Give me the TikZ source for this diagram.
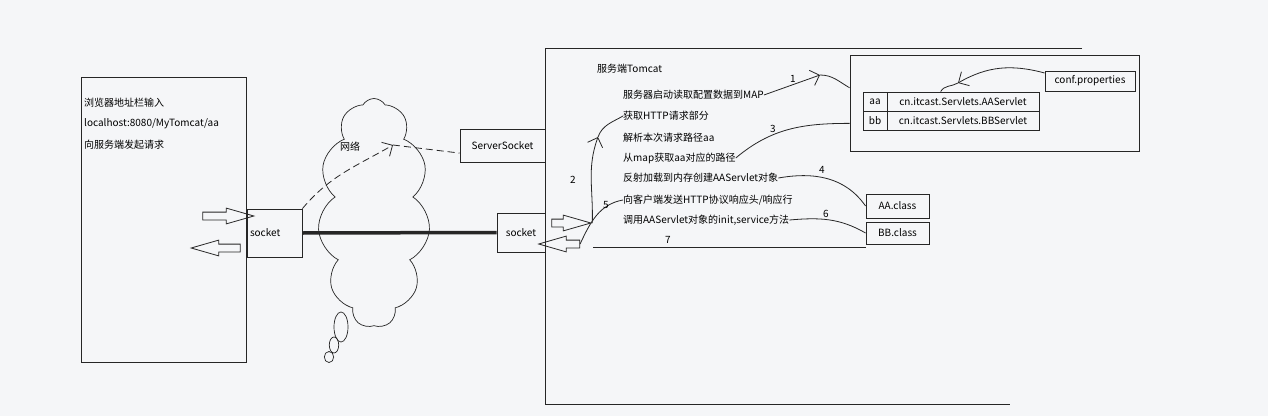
\documentclass[tikz,border=0pt]{standalone}
\usepackage{fontspec}
\setmainfont{Noto Sans CJK SC}
\usetikzlibrary{shapes.symbols,shapes.arrows,shapes.geometric,arrows.meta}
\definecolor{bg}{RGB}{245,246,248}
\definecolor{ink}{RGB}{38,38,38}
\begin{document}
\begin{tikzpicture}[x=1pt,y=1pt,font=\fontsize{10}{12}\selectfont,
				box/.style = {rectangle,draw=ink,line width=0.9pt,inner sep=0pt},
				txt/.style = {anchor=west,inner sep=0pt},
				num/.style = {inner sep=0pt},
				hollow/.style = {single arrow,draw=ink,line width=0.8pt,inner xsep=0pt,inner ysep=3.5pt,
					single arrow head extend=4pt,single arrow tip angle=32},
				line/.style = {draw=ink,line width=0.8pt},
				barb/.style = {-{Straight Barb[length=8pt,width=16pt]}}]
				
				\fill[bg] (0,0) rectangle (1268,416);
				\useasboundingbox (0,0) rectangle (1268,416);
				
				% browser side
				\node[box,minimum width=165pt,minimum height=285pt] (browser) at (163.5,196.5) {};
				\node[txt] (b1) at (84,313) {浏览器地址栏输入};
				\node[txt] (b2) at (84,292) {localhost:8080/MyTomcat/aa};
				\node[txt] (b3) at (84,271) {向服务端发起请求};
				\node[box,minimum width=55pt,minimum height=48pt,text width=49pt,inner xsep=3pt,align=left] (sock1) at (274.5,183) {socket};
				\node[hollow,minimum height=51pt] (la1) at (221.5,200) {};
				\node[hollow,minimum height=49pt,shape border rotate=180] (la2) at (222.5,168) {};
				
				% network
				\node[cloud,draw=ink,line width=0.7pt,cloud puffs=11,cloud puff arc=120,cloud ignores aspect,
					minimum width=112pt,minimum height=229pt] (net) at (374,203) {};
				\node[ellipse,draw=ink,line width=0.7pt,minimum width=14pt,minimum height=30pt] (e1) at (341,89) {};
				\node[ellipse,draw=ink,line width=0.7pt,minimum width=9pt,minimum height=16pt] (e2) at (334,71) {};
				\node[ellipse,draw=ink,line width=0.7pt,minimum width=7pt,minimum height=11pt] (e3) at (329,59) {};
				\node (nettxt) at (350,269) {网络};
				
				% server side
				\draw[line] (1082,368) -- (545,368) -- (545,12) -- (1010,12);
				\node[box,minimum width=48pt,minimum height=39pt] (sock2) at (521,183.5) {socket};
				\node[box,minimum width=85pt,minimum height=33pt] (ssock) at (502.5,270.5) {ServerSocket};
				\node[hollow,minimum height=39pt] (ra1) at (564.5,193) {};
				\node[hollow,minimum height=41pt,shape border rotate=180] (ra2) at (566,172) {};
				\node[txt] (title) at (597,347) {服务端Tomcat};
				\node[txt] (t1) at (623,321) {服务器启动读取配置数据到MAP};
				\node[txt] (t2) at (623,300) {获取HTTP请求部分};
				\node[txt] (t3) at (623,278) {解析本次请求路径aa};
				\node[txt] (t4) at (623,258) {从map获取aa对应的路径};
				\node[txt] (t5) at (623,238) {反射加载到内存创建AAServlet对象};
				\node[txt] (t6) at (623,216) {向客户端发送HTTP协议响应头/响应行};
				\node[txt] (t7) at (623,196) {调用AAServlet对象的init,service方法};
				
				% config
				\node[box,minimum width=289pt,minimum height=96pt] (conf) at (994.5,313) {};
				\node[box,minimum width=24pt,minimum height=19pt] (aa) at (875,314.5) {aa};
				\node[box,minimum width=152pt,minimum height=19pt] (aaCls) at (963,314.5) {cn.itcast.Servlets.AAServlet};
				\node[box,minimum width=24pt,minimum height=19pt] (bb) at (875,295.5) {bb};
				\node[box,minimum width=152pt,minimum height=19pt] (bbCls) at (963,295.5) {cn.itcast.Servlets.BBServlet};
				\node[box,minimum width=90pt,minimum height=20pt] (cp) at (1090,335) {conf.properties};
				\node[box,minimum width=63pt,minimum height=24pt] (AA) at (897.5,210) {AA.class};
				\node[box,minimum width=63pt,minimum height=22pt] (BB) at (897.5,183) {BB.class};
				
				% bends of the hand drawn arrows
				\coordinate (v0) at (393,271);
				\coordinate (v1) at (820,341);
				\coordinate (v2) at (598,279);
				\coordinate (v3) at (958,333);
				\coordinate (c7) at (593,169);
				
				\draw[line,line width=3.5pt] (sock1.east) -- (sock2.west);
				\draw[line,dash pattern=on 7pt off 4pt,barb] (sock1.north east) to[out=50,in=210] (v0);
				\draw[line,dash pattern=on 7pt off 4pt] (v0) -- (ssock.190);
				
				\draw[line,barb] (t1.east) -- (v1);
				\draw[line] (v1) to[out=0,in=150] (conf.174);
				\draw[line,barb] (ra1.tip) to[out=88,in=250] (v2);
				\draw[line] (v2) to[out=70,in=210] (t2.west);
				\draw[line] (t4.east) to[out=40,in=180] (conf.188);
				\draw[line] (t5.east) to[out=10,in=125] (AA.west);
				\draw[line] (ra2.tail) to[out=65,in=190] (t6.west);
				\draw[line] (t7.east) to[out=5,in=150] (BB.west);
				\draw[line] (c7) -- (c7 -| BB.west);
				\draw[line,barb] (cp.170) to[out=165,in=30] (v3);
				\draw[line] (v3) to[out=210,in=60] (aaCls.156);
				
				\node[num] (n1) at (793,337) {1};
				\node[num] (n2) at (573,236) {2};
				\node[num] (n3) at (773,287) {3};
				\node[num] (n4) at (822,246) {4};
				\node[num] (n5) at (606,211) {5};
				\node[num] (n6) at (826,202) {6};
				\node[num] (n7) at (668,176) {7};
\end{tikzpicture}
\end{document}
